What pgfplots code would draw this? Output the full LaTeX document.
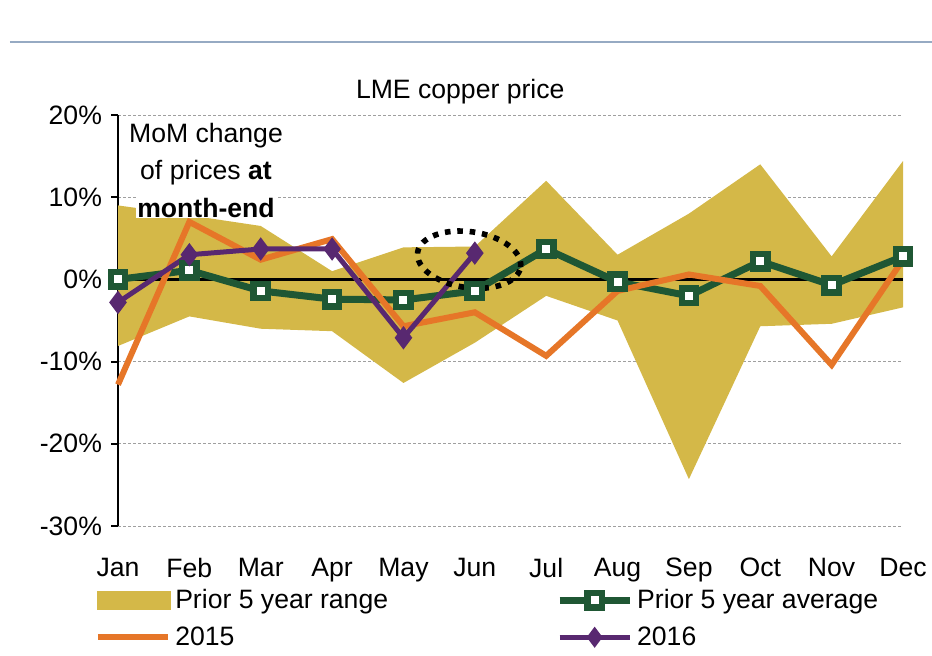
\documentclass[border=0pt]{standalone}
\usepackage{fontspec}
\setmainfont{Liberation Sans}
\usepackage{pgfplots}
\pgfplotsset{compat=1.18}
\usepgfplotslibrary{fillbetween}
\definecolor{bandc}{RGB}{212,184,72}
\definecolor{orng}{RGB}{230,118,40}
\definecolor{dgreen}{RGB}{31,87,52}
\definecolor{purp}{RGB}{88,40,112}
\definecolor{rule}{RGB}{150,170,195}
\newcommand{\fs}{\fontsize{13.3}{16}\selectfont}

\begin{document}
\begin{tikzpicture}[font=\fs]
\begin{axis}[
    scale only axis,
    width=392.5pt, height=205.5pt,
    xmin=0, xmax=11, ymin=-30, ymax=20,
    clip=false,
    axis lines*=left,
    x axis line style={draw=none},
    y axis line style={black, line width=1pt},
    xtick={0,...,11},
    xticklabels={Jan,Feb,Mar,Apr,May,Jun,Jul,Aug,Sep,Oct,Nov,Dec},
    xtick style={draw=none},
    xticklabel style={yshift=-9pt},
    ytick={-30,-20,-10,0,10,20},
    yticklabels={-30\%,-20\%,-10\%,0\%,10\%,20\%},
    ytick style={black, line width=1pt},
    tick align=outside,
    major tick length=3.5pt,
    yticklabel style={xshift=-1pt},
    tick label style={font=\fs},
    ymajorgrids,
    major grid style={gray!75, line width=0.5pt, dash pattern=on 1.5pt off 1pt},
    legend columns=2,
    legend cell align=left,
    legend style={draw=none, fill=none, font=\fs,
        at={(-0.030,-0.143)}, anchor=north west,
        inner xsep=0pt, inner ysep=0pt, row sep=3.5pt,
        /tikz/every even column/.append style={column sep=82pt}},
    legend image code/.code={\draw[mark repeat=2,mark phase=2,#1] plot coordinates {(0pt,0pt) (17.5pt,0pt) (35pt,0pt)};},
]
% prior 5 year range
\addplot[name path=up, draw=none, forget plot] coordinates {
(0,9.0) (1,7.8) (2,6.5) (3,1.0) (4,3.9) (5,4.0) (6,12.0) (7,3.0) (8,8.0) (9,14.0) (10,2.8) (11,14.4)};
\addplot[name path=lo, draw=none, forget plot] coordinates {
(0,-8.1) (1,-4.5) (2,-6.0) (3,-6.3) (4,-12.6) (5,-7.7) (6,-2.0) (7,-5.0) (8,-24.3) (9,-5.7) (10,-5.4) (11,-3.4)};
\addplot[bandc, draw=none, forget plot] fill between[of=up and lo];
% zero line
\addplot[black, line width=1.2pt, forget plot] coordinates {(0,0) (11,0)};
% prior 5 year average
\addplot[dgreen, line width=3.5pt, mark=square*, mark size=3.6pt,
    mark options={fill=white, draw=dgreen, line width=3.2pt}, forget plot] coordinates {
(0,0.0) (1,1.1) (2,-1.4) (3,-2.4) (4,-2.5) (5,-1.4) (6,3.7) (7,-0.3) (8,-2.0) (9,2.2) (10,-0.7) (11,2.8)};
% 2015
\addplot[orng, line width=3pt, forget plot] coordinates {
(0,-12.8) (1,7.0) (2,2.4) (3,4.9) (4,-5.7) (5,-4.0) (6,-9.3) (7,-1.4) (8,0.6) (9,-0.8) (10,-10.4) (11,2.4)};
% 2016
\addplot[purp, line width=2.5pt, mark=diamond*, mark size=3.8pt, forget plot] coordinates {
(0,-2.8) (1,3.0) (2,3.7) (3,3.7) (4,-7.1) (5,3.2)};

\addlegendimage{legend image code/.code={\fill[bandc] (0pt,-4.5pt) rectangle (36.5pt,4.5pt);}}
\addlegendentry{Prior 5 year range}
\addlegendimage{dgreen, line width=3.5pt, mark=square*, mark size=3.6pt, mark options={fill=white, draw=dgreen, line width=3.2pt}}
\addlegendentry{Prior 5 year average}
\addlegendimage{orng, line width=3pt}
\addlegendentry{2015}
\addlegendimage{purp, line width=2.5pt, mark=diamond*, mark size=3.2pt}
\addlegendentry{2016}

\draw[black, line width=2.8pt, dash pattern=on 2.8pt off 3.4pt,
    rotate around={-8:(axis cs:4.92,2.4)}]
    (axis cs:4.92,2.4) ellipse [x radius=26pt, y radius=14pt];

\node[anchor=base] at (axis cs:1.233,16.7) {MoM change};
\node[anchor=base] at (axis cs:1.233,12.1) {of prices \textbf{at}};
\node[anchor=base, fill=white, inner xsep=0.5pt, inner ysep=0.5pt, text depth=0pt]
    at (axis cs:1.233,7.55) {\textbf{month-end}};
\node[anchor=base] at (axis description cs:0.436,1) [yshift=8.5pt] {LME copper price};
\end{axis}
\draw[rule, line width=1pt] (-54pt,242pt) -- (407pt,242pt);
\pgfresetboundingbox
\path (-59pt,-64.5pt) rectangle (407pt,263pt);
\end{tikzpicture}
\end{document}
